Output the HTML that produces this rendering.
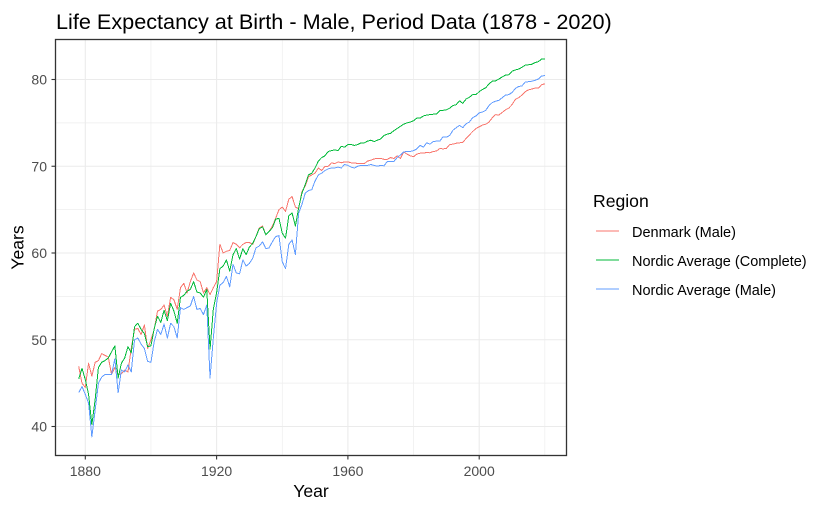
<!DOCTYPE html>
<html>
<head>
<meta charset="utf-8">
<style>
html,body{margin:0;padding:0;background:#fff;width:826px;height:510px;overflow:hidden}
svg{display:block;font-family:"Liberation Sans",Arial,sans-serif}
</style>
</head>
<body>
<svg id="chart" width="826" height="510" viewBox="0 0 826 510">
<rect x="0" y="0" width="826" height="510" fill="#fff"/>
<g id="grid"></g>
<g id="series"></g>
<rect x="55.5" y="39.5" width="511" height="416" fill="none" stroke="#333" stroke-width="1.3"/>
<g id="axes"></g>
<text x="56" y="29" font-size="21.65" fill="#000">Life Expectancy at Birth - Male, Period Data (1878 - 2020)</text>
<text x="311" y="497" font-size="17.6" text-anchor="middle" fill="#000">Year</text>
<text transform="translate(23.5 247.5) rotate(-90)" font-size="17.6" text-anchor="middle" fill="#000">Years</text>
<g id="legend">
<text x="593" y="207" font-size="17.6" fill="#000">Region</text>
</g>
</svg>
<script>
var startYear = 1878;
var xTicks = [1880, 1920, 1960, 2000];
var xMinor = [1900, 1940, 1980, 2020];
var yTicks = [40, 50, 60, 70, 80];
var yMinor = [45, 55, 65, 75];
var seriesNames = ["Denmark (Male)", "Nordic Average (Complete)", "Nordic Average (Male)"];

var denmarkMale = [46.9,45.0,
44.5,47.3,45.8,47.4,47.6,48.4,48.2,48.0,46.0,46.8,
46.0,46.1,46.5,46.3,49.0,51.2,51.3,50.6,51.7,49.0,
50.0,51.2,53.3,53.5,54.0,52.7,54.9,54.6,53.5,56.0,
56.5,55.4,56.7,57.7,56.9,56.7,55.4,56.0,55.2,56.0,
56.7,61.0,60.0,60.2,60.3,61.2,61.0,60.6,61.0,61.2,
61.2,61.0,61.9,62.9,63.1,62.1,62.5,63.1,64.0,65.0,
65.3,64.8,66.2,66.5,65.3,65.1,67.1,67.7,68.8,69.0,
69.2,69.8,69.5,70.0,70.0,70.4,70.3,70.5,70.4,70.5,
70.5,70.4,70.4,70.3,70.3,70.3,70.6,70.7,70.85,70.9,
70.9,70.8,70.8,71.0,70.9,71.2,70.9,71.65,71.4,71.2,
71.1,71.4,71.5,71.5,71.6,71.55,71.7,71.75,72.05,72.0,
72.05,72.5,72.55,72.65,72.7,72.75,73.2,73.6,74.0,74.35,
74.55,74.75,74.85,75.1,75.6,75.95,75.9,76.2,76.5,76.7,
77.1,77.7,77.9,78.2,78.6,78.8,78.9,79.0,79.0,79.4,
79.5];

var nordicComplete = [45.5,46.7,
45.4,43.7,40.2,43.1,46.8,47.4,47.6,47.9,48.6,49.3,
45.6,47.3,47.9,49.2,48.5,51.5,51.9,51.2,50.7,49.2,
49.3,51.3,52.7,52.0,53.4,52.2,54.2,53.3,51.9,54.9,
55.1,55.6,55.8,56.7,55.5,55.4,54.9,55.8,48.9,53.5,
55.4,58.2,58.5,59.2,57.9,59.8,60.5,59.3,60.5,59.8,
60.7,61.1,61.9,62.8,63.0,62.1,62.5,62.9,63.9,64.0,
62.3,61.7,64.3,64.6,63.1,65.2,66.9,67.9,69.0,69.2,
69.8,70.6,71.0,71.2,71.7,71.8,71.9,71.8,72.3,72.2,
72.5,72.5,72.4,72.5,72.7,72.7,72.9,73.0,72.85,73.0,
73.15,73.55,73.7,73.8,74.1,74.35,74.6,74.85,75.0,75.1,
75.25,75.55,75.55,75.8,75.9,75.95,76.0,76.0,76.4,76.45,
76.5,76.7,77.0,77.1,77.55,77.25,77.75,77.95,78.25,78.25,
78.6,78.85,79.05,79.5,79.8,79.85,80.05,80.3,80.5,80.55,
80.95,81.1,81.2,81.4,81.65,81.7,81.75,81.95,82.05,82.35,
82.35];

var nordicMale = [43.9,44.6,
43.7,42.7,38.8,41.9,45.0,45.7,46.0,46.0,46.0,47.8,
43.9,46.5,46.3,47.1,46.3,50.0,50.2,49.5,49.0,47.5,
47.4,49.8,51.2,50.6,51.8,50.2,51.9,51.5,50.2,53.7,
53.5,53.7,53.9,55.0,53.5,53.6,52.9,54.0,45.6,50.2,
54.2,56.3,56.6,57.3,56.1,58.7,57.7,57.6,59.2,58.5,
58.8,59.4,60.6,60.8,61.3,60.5,60.6,61.3,61.9,62.0,
59.0,58.2,61.0,61.5,59.8,64.6,65.6,66.9,67.2,67.3,
68.3,69.0,69.2,69.5,69.7,69.8,69.8,69.9,69.8,70.2,
70.1,69.9,69.8,70.0,70.1,70.1,70.1,70.2,70.1,70.0,
70.1,70.05,70.55,70.55,70.55,71.0,71.3,71.65,71.7,71.7,
71.8,72.0,72.4,72.2,72.7,72.55,72.85,72.9,72.9,73.4,
73.35,73.55,74.15,74.45,74.7,74.45,74.9,75.1,75.6,75.8,
76.15,76.25,76.45,77.0,77.35,77.5,77.6,77.9,78.2,78.25,
78.5,78.95,79.2,79.25,79.7,79.75,79.8,79.9,80.05,80.4,
80.45];

var seriesColors = ["#F8766D", "#00BA38", "#619CFF"];
var drawOrder = [0, 2, 1];
var allSeries = [denmarkMale, nordicComplete, nordicMale];
var NS = "http://www.w3.org/2000/svg";

function xScale(year) { return 85.3 + (year - 1880) * 3.2825; }
function yScale(val) { return 426.5 - (val - 40) * 8.675; }

function make(tag, attrs, parent) {
  var el = document.createElementNS(NS, tag);
  for (var k in attrs) { el.setAttribute(k, attrs[k]); }
  parent.appendChild(el);
  return el;
}

var grid = document.getElementById("grid");
var axes = document.getElementById("axes");
var seriesG = document.getElementById("series");
var legend = document.getElementById("legend");

yMinor.forEach(function (v) {
  var l = make("line", {x1: 56, x2: 566, y1: yScale(v), y2: yScale(v), stroke: "#ededed", "stroke-width": 0.7}, grid);
  
  
});
xMinor.forEach(function (v) {
  var l = make("line", {x1: xScale(v), x2: xScale(v), y1: 40, y2: 455, stroke: "#ededed", "stroke-width": 0.7}, grid);
  
  
});
yTicks.forEach(function (v) {
  var l = make("line", {x1: 56, x2: 566, y1: yScale(v), y2: yScale(v), stroke: "#ebebeb", "stroke-width": 1.1}, grid);
  
  
  var t = make("line", {x1: 51.5, x2: 55.5, y1: yScale(v), y2: yScale(v), stroke: "#333", "stroke-width": 1.1}, axes);
  
  
  var lab = make("text", {x: 47, y: yScale(v) + 5, "font-size": 14, "text-anchor": "end", fill: "#4d4d4d"}, axes);
  
  
  lab.textContent = v;
});
xTicks.forEach(function (v) {
  var l = make("line", {x1: xScale(v), x2: xScale(v), y1: 40, y2: 455, stroke: "#ebebeb", "stroke-width": 1.1}, grid);
  
  
  var t = make("line", {x1: xScale(v), x2: xScale(v), y1: 455.5, y2: 459.5, stroke: "#333", "stroke-width": 1.1}, axes);
  
  
  var lab = make("text", {x: xScale(v), y: 476, "font-size": 14, "text-anchor": "middle", fill: "#4d4d4d"}, axes);
  
  
  lab.textContent = v;
});

drawOrder.forEach(function (i) {
  var pts = allSeries[i].map(function (v, j) {
    return xScale(startYear + j).toFixed(2) + "," + yScale(v).toFixed(2);
  }).join(" ");
  var p = make("polyline", {points: pts, fill: "none", stroke: seriesColors[i], "stroke-width": 1, "stroke-linejoin": "round", "shape-rendering": "crispEdges"}, seriesG);
  
  
});

seriesNames.forEach(function (name, i) {
  var y = 231 + i * 29;
  var k = make("line", {x1: 596, x2: 619, y1: y, y2: y, stroke: seriesColors[i], "stroke-width": 1}, legend);
  
  
  var t = make("text", {x: 632, y: y + 6, "font-size": 14.5, fill: "#000"}, legend);
  
  
  t.textContent = name;
});
</script>
</body>
</html>
